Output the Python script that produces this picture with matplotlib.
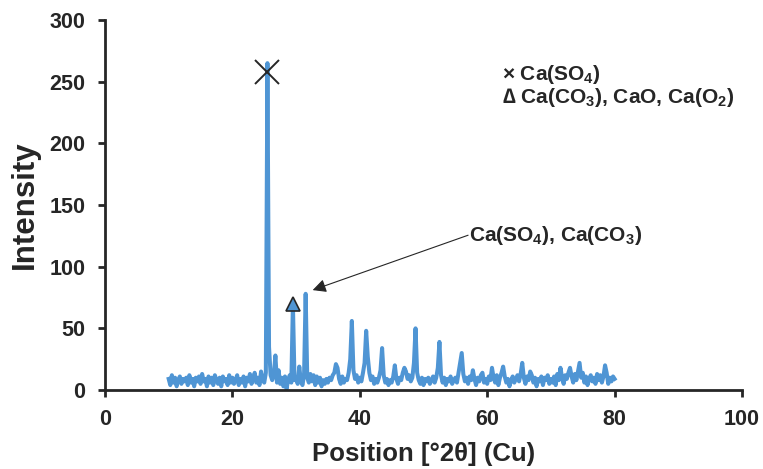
import numpy as np
import matplotlib
matplotlib.use('Agg')
import matplotlib.pyplot as plt

plt.rcParams['font.family'] = ['Liberation Sans', 'DejaVu Sans']
plt.rcParams['font.weight'] = 'bold'
plt.rcParams['mathtext.fontset'] = 'custom'
plt.rcParams['mathtext.rm'] = 'Liberation Sans:bold'
plt.rcParams['mathtext.bf'] = 'Liberation Sans:bold'
plt.rcParams['mathtext.it'] = 'Liberation Sans:bold'
plt.rcParams['mathtext.default'] = 'rm'

# XRD pattern, 2theta from 10 to 80 in 0.25 steps
two_theta = np.arange(10.0, 80.01, 0.25)
intensity = [
    9, 4, 12, 6, 10, 3, 8, 11, 5, 9, 7, 10, 4, 12, 6, 9, 3, 10, 7, 11,            # 10-14.75
    5, 13, 7, 9, 3, 11, 6, 10, 4, 12, 8, 5, 10, 3, 11, 7, 9, 4, 12, 6,            # 15-19.75
    10, 5, 8, 12, 4, 9, 6, 11, 3, 10, 7, 13, 5, 9, 14, 6, 10, 4, 15, 8,           # 20-24.75
    6, 14, 265, 35, 12, 8, 12, 28, 6, 16, 5, 10, 3, 11, 1, 8, 12, 6, 70, 8,       # 25-29.75
    10, 5, 19, 7, 4, 12, 78, 10, 6, 13, 7, 12, 4, 11, 6, 10, 3, 8, 5, 9,          # 30-34.75
    6, 10, 8, 12, 14, 21, 18, 9, 5, 11, 6, 9, 8, 14, 25, 56, 16, 9, 12, 6,        # 35-39.75
    10, 7, 14, 22, 48, 27, 14, 8, 11, 5, 9, 6, 10, 16, 34, 12, 6, 9, 4, 8,        # 40-44.75
    6, 11, 20, 9, 5, 10, 8, 14, 18, 15, 9, 12, 7, 10, 22, 50, 14, 8, 5, 10,       # 45-49.75
    4, 9, 7, 10, 5, 8, 11, 6, 10, 18, 39, 12, 6, 10, 4, 9, 7, 11, 5, 8,           # 50-54.75
    10, 6, 14, 22, 30, 13, 7, 10, 5, 11, 8, 16, 9, 4, 10, 7, 12, 14, 6, 9,        # 55-59.75
    5, 11, 8, 18, 10, 6, 12, 4, 10, 14, 19, 11, 6, 9, 3, 8, 11, 6, 9, 12,         # 60-64.75
    7, 13, 22, 10, 5, 11, 8, 15, 12, 6, 10, 3, 9, 7, 11, 4, 10, 8, 12, 5,         # 65-69.75
    9, 6, 11, 4, 13, 8, 18, 10, 5, 12, 9, 14, 18, 11, 6, 13, 8, 15, 22, 10,       # 70-74.75
    14, 6, 11, 4, 9, 12, 7, 10, 5, 13, 8, 12, 6, 11, 20, 14, 5, 10, 7, 11,        # 75-79.75
    9,                                                                            # 80
]

sulfate_peak = (25.5, 258)
carbonate_peak = (29.5, 70)

blue = '#4f95d4'
dark = '#262626'

fig = plt.figure(figsize=(7.63, 4.69), dpi=100)
ax = fig.add_axes([0.1376, 0.1684, 0.8349, 0.789])

ax.plot(two_theta, intensity, color=blue, lw=2.9, solid_joinstyle='round')

ax.plot(*sulfate_peak, marker='x', ms=17, mew=1.4, color=dark, ls='none')
ax.plot(*carbonate_peak, marker='^', ms=10, mfc=blue, mec=dark, mew=1.2, ls='none')

# arrow to the 31.5 deg peak, label drawn separately so the line meets its left edge
ax.annotate('', xy=(32.6, 81), xytext=(57.0, 125.5),
            arrowprops=dict(arrowstyle='-|>', color=dark, lw=0.8, mutation_scale=20,
                            shrinkA=0, shrinkB=0))
ax.text(57.1, 125, r'Ca(SO$_4$), Ca(CO$_3$)', fontsize=15, fontweight='bold',
        color=dark, va='center', ha='left')

# key for the peak markers
ax.text(62.3, 251, r'× Ca(SO$_4$)', fontsize=15, fontweight='bold', color=dark, va='baseline')
ax.text(62.3, 233, r'∆ Ca(CO$_3$), CaO, Ca(O$_2$)', fontsize=15, fontweight='bold', color=dark, va='baseline')

ax.set_xlim(0, 100)
ax.set_ylim(0, 300)
ax.set_xticks(range(0, 101, 20))
ax.set_yticks(range(0, 301, 50))

for side in ['top', 'right']:
    ax.spines[side].set_visible(False)
for side in ['left', 'bottom']:
    ax.spines[side].set_linewidth(2)
    ax.spines[side].set_color(dark)

ax.tick_params(direction='out', length=5, width=2, color=dark, labelsize=15.5, labelcolor=dark)
ax.tick_params(axis='y', pad=9)
ax.tick_params(axis='x', pad=9)
for lab in ax.get_xticklabels() + ax.get_yticklabels():
    lab.set_fontweight('bold')

ax.set_xlabel('Position [°2θ] (Cu)', fontsize=18.5, fontweight='bold', color=dark, labelpad=8)
ax.set_ylabel('Intensity', fontsize=22.5, fontweight='bold', color=dark, labelpad=7)

fig.savefig('out.png', dpi=100)
